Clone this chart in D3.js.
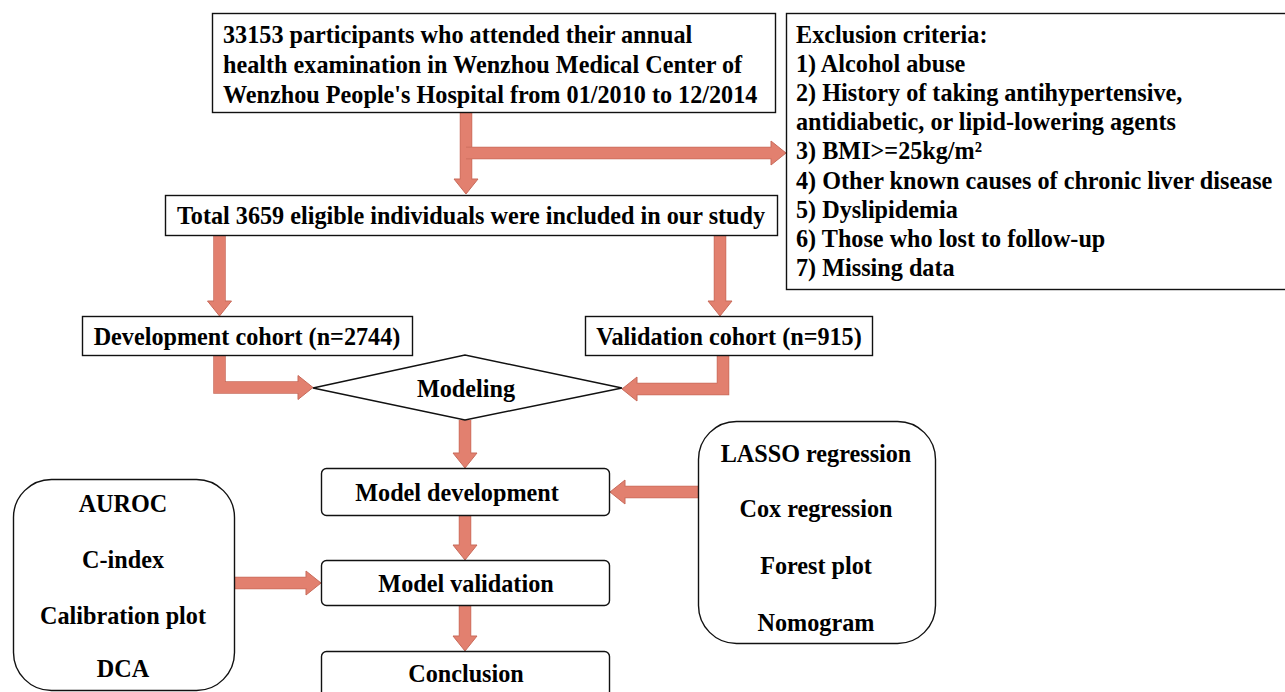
<!DOCTYPE html>
<html>
<head>
<meta charset="utf-8">
<script src="https://cdn.jsdelivr.net/npm/d3@7"></script>
<style>
  html, body { margin: 0; padding: 0; background: #fff; overflow: hidden; }
  svg { display: block; }
  text { font-family: "Liberation Serif", "Times New Roman", serif; font-weight: bold; fill: #000; }
</style>
</head>
<body>
<svg id="chart" width="1285" height="692"></svg>
<script>
// ---- Text content ----
const sourceLines = [
  "33153 participants who attended their annual",
  "health examination in Wenzhou Medical Center of",
  "Wenzhou People's Hospital from 01/2010 to 12/2014"
];
const exclusionLines = [
  "Exclusion criteria:",
  "1) Alcohol abuse",
  "2) History of taking antihypertensive,",
  "antidiabetic, or lipid-lowering agents",
  "3) BMI>=25kg/m\u00B2",
  "4) Other known causes of chronic liver disease",
  "5) Dyslipidemia",
  "6) Those who lost to follow-up",
  "7) Missing data"
];
const totalLabel = "Total 3659 eligible individuals were included in our study";
const cohortLabels = ["Development cohort (n=2744)", "Validation cohort (n=915)"];
const modelingLabel = "Modeling";
const stepLabels = ["Model development", "Model validation", "Conclusion"];
const validationMethods = ["AUROC", "C-index", "Calibration plot", "DCA"];
const developmentMethods = ["LASSO regression", "Cox regression", "Forest plot", "Nomogram"];

// ---- Layout ----
const FS = 24.2;
const ARROW_FILL = "#e2806f", ARROW_STROKE = "#c86a5a";
const svg = d3.select("#chart");

function box(x, y, w, h, rx) {
  svg.append("rect").attr("x", x).attr("y", y).attr("width", w).attr("height", h)
    .attr("rx", rx || 0).attr("fill", "#fff").attr("stroke", "#111").attr("stroke-width", 1.4);
}
function label(t, x, y, anchor) {
  svg.append("text").attr("x", x).attr("y", y).attr("text-anchor", anchor || "middle")
    .attr("dominant-baseline", "central").attr("font-size", FS).text(t);
}

// Block arrow along an orthogonal polyline; last segment ends with a head.
function arrow(pts, w, hw, hl) {
  w = w || 11; hw = hw || 24; hl = hl || 15;
  const n = pts.length;
  const [px, py] = pts[n - 2], [tx, ty] = pts[n - 1];
  const dx = Math.sign(tx - px), dy = Math.sign(ty - py);
  const bx = tx - dx * hl, by = ty - dy * hl;
  const shaft = pts.slice(0, n - 1).concat([[bx + dx * 1, by + dy * 1]]);
  const line = d3.line();
  svg.append("path").attr("d", line(shaft)).attr("fill", "none")
    .attr("stroke", ARROW_STROKE).attr("stroke-width", w + 1.5)
    .attr("stroke-linejoin", "miter").attr("stroke-linecap", "butt");
  const nx = -dy, ny = dx;
  const head = [[tx, ty], [bx + nx * hw / 2, by + ny * hw / 2], [bx - nx * hw / 2, by - ny * hw / 2]];
  svg.append("path").attr("d", line(head) + "Z").attr("fill", ARROW_FILL)
    .attr("stroke", ARROW_STROKE).attr("stroke-width", 1);
  svg.append("path").attr("d", line(shaft)).attr("fill", "none")
    .attr("stroke", ARROW_FILL).attr("stroke-width", w)
    .attr("stroke-linejoin", "miter").attr("stroke-linecap", "butt");
}

// Arrows (drawn first so boxes sit on top)
arrow([[466, 112], [466, 194]]);
arrow([[466, 153], [786, 153]]);
arrow([[219.5, 235], [219.5, 316]]);
arrow([[720, 235], [720, 316]]);
arrow([[219.5, 355], [219.5, 387.5], [313, 387.5]]);
arrow([[723, 355], [723, 389], [622, 389]]);
arrow([[465, 420], [465, 468]]);
arrow([[465, 515], [465, 560]]);
arrow([[465, 605], [465, 651]]);
arrow([[698, 492], [610, 492]]);
arrow([[234, 583], [321, 583]]);

// Source box
box(212.5, 13.5, 563, 99);
sourceLines.forEach((t, i) => label(t, 223, 34 + i * 30, "start"));

// Exclusion box
box(786.5, 13.5, 520, 276);
exclusionLines.forEach((t, i) => label(t, 796, 34 + i * 29.2, "start"));

// Total box
box(165.5, 195.5, 612, 40);
label(totalLabel, 471, 215);

// Cohorts
box(82.5, 316.5, 330, 39);
label(cohortLabels[0], 247, 336);
box(585.5, 316.5, 287, 39);
label(cohortLabels[1], 729, 336);

// Diamond
svg.append("path").attr("d", d3.line()([[313, 388], [465, 355], [622, 388], [465, 420]]) + "Z")
  .attr("fill", "#fff").attr("stroke", "#111").attr("stroke-width", 1.4);
label(modelingLabel, 466, 388);

// Step boxes
const stepY = [468.5, 560.5, 651.5];
const stepH = [47, 45, 60];
const stepTextY = [492, 583, 673];
const stepTextX = [457, 466, 466];
stepLabels.forEach((t, i) => {
  box(321.5, stepY[i], 288, stepH[i], 5);
  label(t, stepTextX[i], stepTextY[i]);
});

// Method boxes
box(13.5, 479.5, 221, 211, 38);
const leftY = [503, 559, 615, 668];
validationMethods.forEach((t, i) => label(t, 123, leftY[i]));

box(698.5, 421.5, 237, 222, 38);
const rightY = [453, 508, 565, 622];
developmentMethods.forEach((t, i) => label(t, 816, rightY[i]));
</script>
</body>
</html>
